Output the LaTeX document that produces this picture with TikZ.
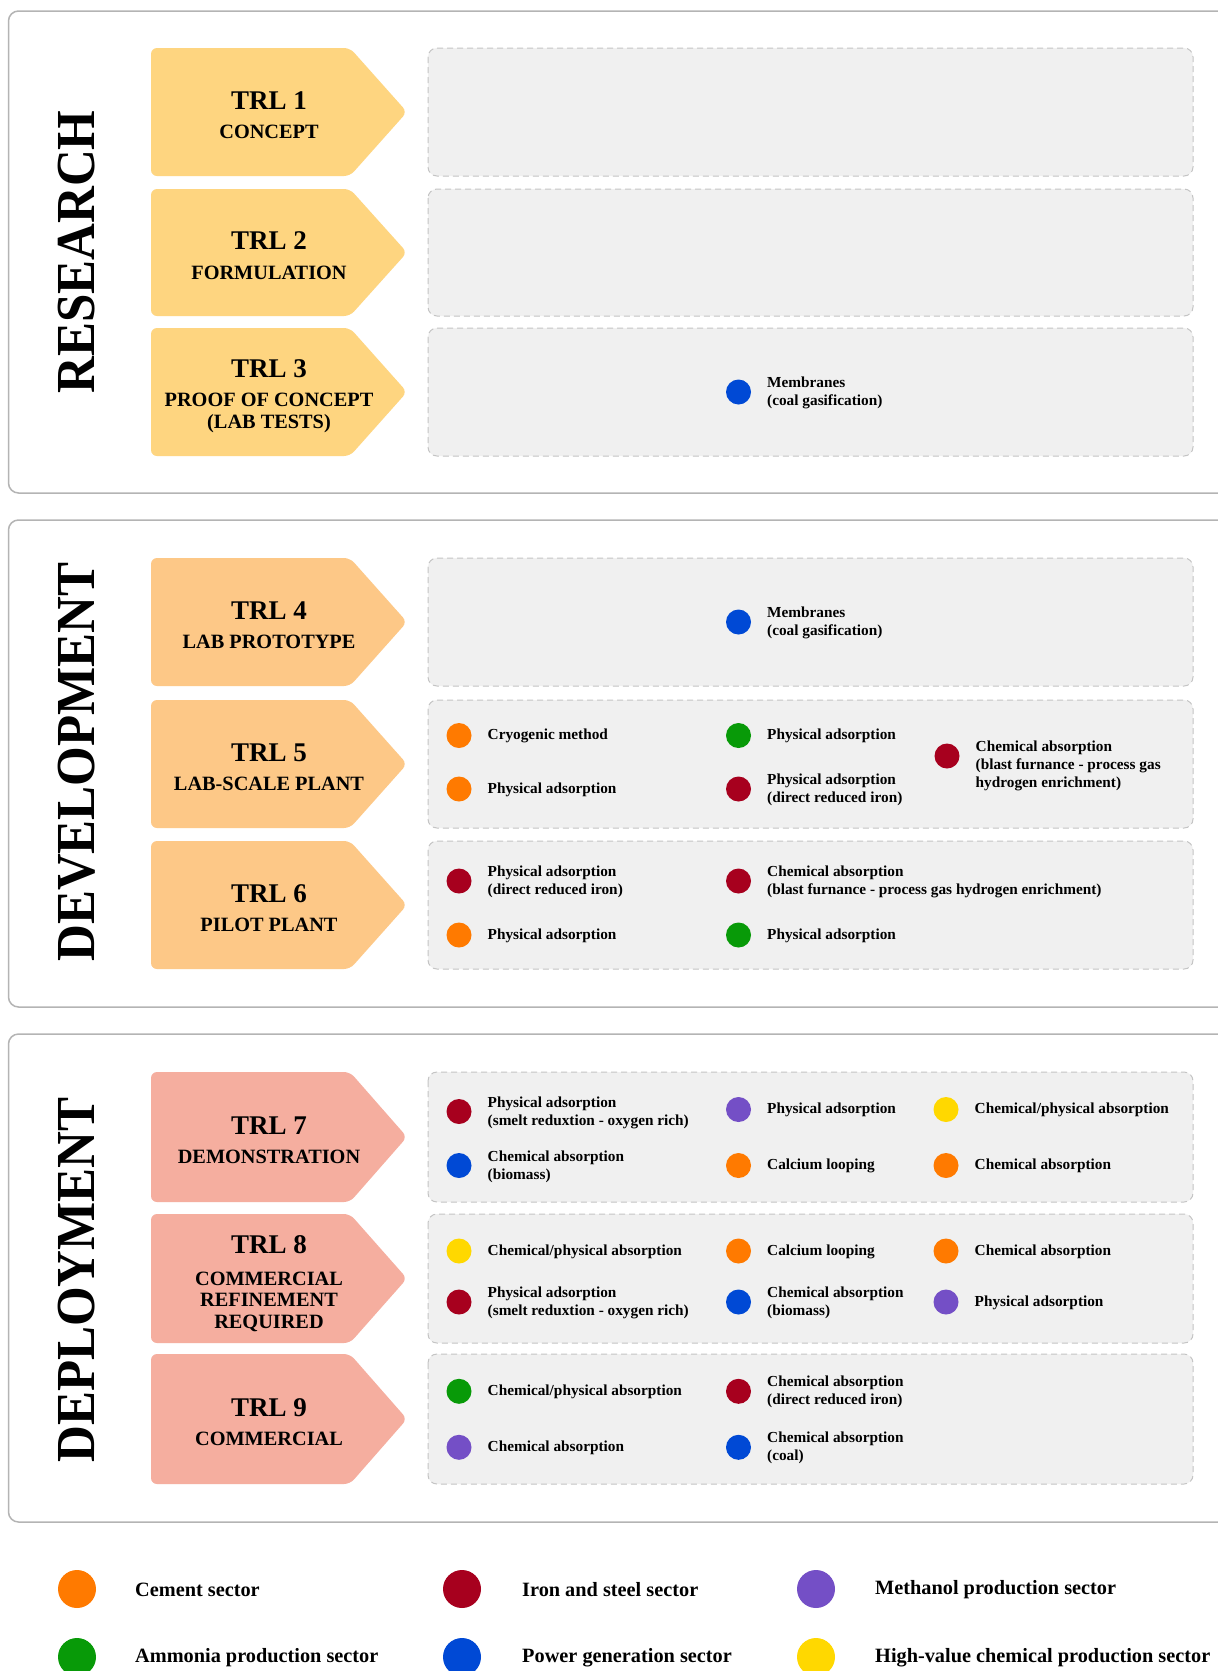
\documentclass[tikz,border=0pt]{standalone}
\usepackage{fontspec}
\setmainfont{Liberation Serif}
\definecolor{cres}{HTML}{FED580}
\definecolor{cdev}{HTML}{FDC887}
\definecolor{cdep}{HTML}{F5AE9F}
\definecolor{corange}{HTML}{FF7A00}
\definecolor{cred}{HTML}{A7001E}
\definecolor{cpurple}{HTML}{744FC6}
\definecolor{cgreen}{HTML}{089A08}
\definecolor{cblue}{HTML}{0049D5}
\definecolor{cyellow}{HTML}{FFD800}
\definecolor{panelfill}{HTML}{F0F0F0}
\definecolor{dashgray}{HTML}{C4C4C4}
\definecolor{outergray}{HTML}{B4B4B4}
\newcommand\mychev[3]{\fill[#1, rounded corners=6pt] (151,#2) -- (350,#2) -- (407,{(#2+#3)/2}) -- (350,#3) -- (151,#3) -- cycle;}
\begin{document}
\begin{tikzpicture}[x=1pt,y=-1pt,
  outerbox/.style={draw=outergray, line width=1.5pt, rounded corners=10pt, fill=white},
  panel/.style={draw=dashgray, fill=panelfill, dash pattern=on 6pt off 4pt, line width=1pt, rounded corners=9pt},
  trltitle/.style={font=\bfseries\fontsize{27}{30}\selectfont, anchor=base, inner sep=0pt},
  trlsub/.style={font=\bfseries\fontsize{20.3}{22}\selectfont, anchor=base, inner sep=0pt},
  dot/.style={circle, minimum size=25pt, inner sep=0pt},
  itxt/.style={font=\bfseries\fontsize{15.3}{18}\selectfont, anchor=west, align=left, inner sep=0pt},
  ldot/.style={circle, minimum size=38pt, inner sep=0pt},
  ltxt/.style={font=\bfseries\fontsize{20.3}{22}\selectfont, anchor=west, inner sep=0pt},
  phase/.style={font=\bfseries\fontsize{55}{60}\selectfont, rotate=90, inner sep=0pt}
]
\useasboundingbox (0,0) rectangle (1218,1671);
\fill[white] (0,0) rectangle (1218,1671);

% outer section boxes
\draw[outerbox] (8.5,11) rectangle (1250,493);
\draw[outerbox] (8.5,520) rectangle (1250,1007);
\draw[outerbox] (8.5,1034) rectangle (1250,1522);

% phase labels
\node[phase] (ph1) at (77,252) {\scalebox{0.927}[1]{RESEARCH}};
\node[phase] (ph2) at (77,762) {\scalebox{0.927}[1]{DEVELOPMENT}};
\node[phase] (ph3) at (77,1280) {\scalebox{0.927}[1]{DEPLOYMENT}};

% chevrons
\mychev{cres}{48}{176}
\mychev{cres}{189}{316}
\mychev{cres}{328}{456}
\mychev{cdev}{558}{686}
\mychev{cdev}{700}{828}
\mychev{cdev}{841}{969}
\mychev{cdep}{1072}{1202}
\mychev{cdep}{1214}{1343}
\mychev{cdep}{1354}{1484}

% panels
\draw[panel] (428,48) rectangle (1193,176);
\draw[panel] (428,189) rectangle (1193,316);
\draw[panel] (428,328) rectangle (1193,456);
\draw[panel] (428,558) rectangle (1193,686);
\draw[panel] (428,700) rectangle (1193,828);
\draw[panel] (428,841) rectangle (1193,969);
\draw[panel] (428,1072) rectangle (1193,1202);
\draw[panel] (428,1214) rectangle (1193,1343);
\draw[panel] (428,1354) rectangle (1193,1484);

% TRL labels
\node[trltitle] (t1) at (269,109) {TRL 1};
\node[trlsub] (s1) at (269,138.6) {CONCEPT};
\node[trltitle] (t2) at (269,249.5) {TRL 2};
\node[trlsub] (s2) at (269,279) {FORMULATION};
\node[trltitle] (t3) at (269,377) {TRL 3};
\node[trlsub] (s3a) at (269,406.6) {PROOF OF CONCEPT};
\node[trlsub] (s3b) at (269,428.6) {(LAB TESTS)};
\node[trltitle] (t4) at (269,619) {TRL 4};
\node[trlsub] (s4) at (269,648.6) {LAB PROTOTYPE};
\node[trltitle] (t5) at (269,761) {TRL 5};
\node[trlsub] (s5) at (269,790.6) {LAB-SCALE PLANT};
\node[trltitle] (t6) at (269,902) {TRL 6};
\node[trlsub] (s6) at (269,931.6) {PILOT PLANT};
\node[trltitle] (t7) at (269,1134) {TRL 7};
\node[trlsub] (s7) at (269,1163.6) {DEMONSTRATION};
\node[trltitle] (t8) at (269,1253.5) {TRL 8};
\node[trlsub] (s8a) at (269,1285) {COMMERCIAL};
\node[trlsub] (s8b) at (269,1306.5) {REFINEMENT};
\node[trlsub] (s8c) at (269,1328) {REQUIRED};
\node[trltitle] (t9) at (269,1416) {TRL 9};
\node[trlsub] (s9) at (269,1445.6) {COMMERCIAL};

% TRL 3
\node[dot, fill=cblue] (d3a) at (738.5,392) {};
\node[itxt] (x3a) at (767,392.5) {Membranes\\(coal gasification)};
% TRL 4
\node[dot, fill=cblue] (d4a) at (738.5,622) {};
\node[itxt] (x4a) at (767,622.5) {Membranes\\(coal gasification)};
% TRL 5
\node[dot, fill=corange] (d5a) at (459,735.5) {};
\node[itxt] (x5a) at (487.5,736) {Cryogenic method};
\node[dot, fill=corange] (d5b) at (459,789) {};
\node[itxt] (x5b) at (487.5,789.5) {Physical adsorption};
\node[dot, fill=cgreen] (d5c) at (738.5,735.5) {};
\node[itxt] (x5c) at (767,736) {Physical adsorption};
\node[dot, fill=cred] (d5d) at (738.5,789) {};
\node[itxt] (x5d) at (767,790) {Physical adsorption\\(direct reduced iron)};
\node[dot, fill=cred] (d5e) at (947,756) {};
\node[itxt] (x5e) at (975.5,766) {Chemical absorption\\(blast furnance - process gas\\hydrogen enrichment)};
% TRL 6
\node[dot, fill=cred] (d6a) at (459,881) {};
\node[itxt] (x6a) at (487.5,882) {Physical adsorption\\(direct reduced iron)};
\node[dot, fill=cred] (d6b) at (738.5,881) {};
\node[itxt] (x6b) at (767,882) {Chemical absorption\\(blast furnance - process gas hydrogen enrichment)};
\node[dot, fill=corange] (d6c) at (459,935) {};
\node[itxt] (x6c) at (487.5,935.5) {Physical adsorption};
\node[dot, fill=cgreen] (d6d) at (738.5,935) {};
\node[itxt] (x6d) at (767,935.5) {Physical adsorption};
% TRL 7
\node[dot, fill=cred] (d7a) at (459,1111.5) {};
\node[itxt] (x7a) at (487.5,1112.8) {Physical adsorption\\(smelt reduxtion - oxygen rich)};
\node[dot, fill=cpurple] (d7b) at (738.5,1109.5) {};
\node[itxt] (x7b) at (767,1110) {Physical adsorption};
\node[dot, fill=cyellow] (d7c) at (946,1109.5) {};
\node[itxt] (x7c) at (974.5,1110) {Chemical/physical absorption};
\node[dot, fill=cblue] (d7d) at (459,1165.5) {};
\node[itxt] (x7d) at (487.5,1166.5) {Chemical absorption\\(biomass)};
\node[dot, fill=corange] (d7e) at (738.5,1165.5) {};
\node[itxt] (x7e) at (767,1166) {Calcium looping};
\node[dot, fill=corange] (d7f) at (946,1165.5) {};
\node[itxt] (x7f) at (974.5,1166) {Chemical absorption};
% TRL 8
\node[dot, fill=cyellow] (d8a) at (459,1251) {};
\node[itxt] (x8a) at (487.5,1251.5) {Chemical/physical absorption};
\node[dot, fill=corange] (d8b) at (738.5,1251) {};
\node[itxt] (x8b) at (767,1251.5) {Calcium looping};
\node[dot, fill=corange] (d8c) at (946,1251) {};
\node[itxt] (x8c) at (974.5,1251.5) {Chemical absorption};
\node[dot, fill=cred] (d8d) at (459,1302) {};
\node[itxt] (x8d) at (487.5,1302.8) {Physical adsorption\\(smelt reduxtion - oxygen rich)};
\node[dot, fill=cblue] (d8e) at (738.5,1302) {};
\node[itxt] (x8e) at (767,1302.8) {Chemical absorption\\(biomass)};
\node[dot, fill=cpurple] (d8f) at (946,1302) {};
\node[itxt] (x8f) at (974.5,1302.5) {Physical adsorption};
% TRL 9
\node[dot, fill=cgreen] (d9a) at (459,1391.3) {};
\node[itxt] (x9a) at (487.5,1391.8) {Chemical/physical absorption};
\node[dot, fill=cred] (d9b) at (738.5,1391.3) {};
\node[itxt] (x9b) at (767,1392.2) {Chemical absorption\\(direct reduced iron)};
\node[dot, fill=cpurple] (d9c) at (459,1447.3) {};
\node[itxt] (x9c) at (487.5,1447.8) {Chemical absorption};
\node[dot, fill=cblue] (d9d) at (738.5,1447.3) {};
\node[itxt] (x9d) at (767,1448.2) {Chemical absorption\\(coal)};

% legend
\node[ldot, fill=corange] (l1) at (77,1589) {};
\node[ltxt] (lt1) at (135,1590) {Cement sector};
\node[ldot, fill=cred] (l2) at (462,1589) {};
\node[ltxt] (lt2) at (522,1590) {Iron and steel sector};
\node[ldot, fill=cpurple] (l3) at (816,1589) {};
\node[ltxt] (lt3) at (875,1590) {Methanol production sector};
\node[ldot, fill=cgreen] (l4) at (77,1657) {};
\node[ltxt] (lt4) at (135,1658) {Ammonia production sector};
\node[ldot, fill=cblue] (l5) at (462,1657) {};
\node[ltxt] (lt5) at (522,1658) {Power generation sector};
\node[ldot, fill=cyellow] (l6) at (816,1657) {};
\node[ltxt] (lt6) at (875,1658) {High-value chemical production sector};
\end{tikzpicture}
\end{document}
